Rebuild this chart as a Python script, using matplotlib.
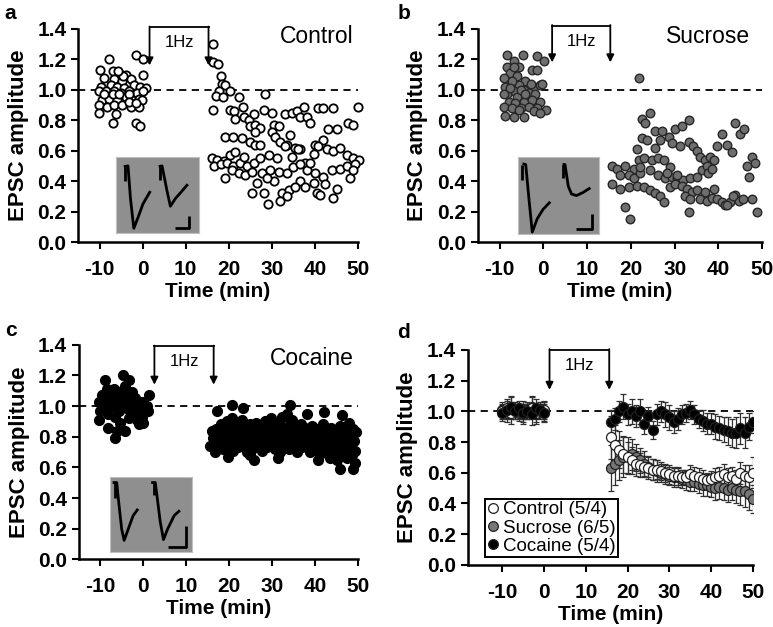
import numpy as np
import matplotlib.pyplot as plt
from matplotlib.lines import Line2D

plt.rcParams['font.family'] = ['Liberation Sans', 'DejaVu Sans']
plt.rcParams['axes.unicode_minus'] = False

# ---- panel a: control, (time min, EPSC amplitude) ----
control_base = [(-7.8, 1.20), (-1.6, 1.23), (0.15, 1.20), (0.15, 1.10), (-9.9, 1.13), (-6.9, 1.12),
                (-5.4, 1.11), (-3.8, 1.10), (-8.9, 1.08), (-6.6, 1.07), (-4.7, 1.06), (-2.8, 1.07),
                (-9.7, 1.02), (-7.4, 1.03), (-5.9, 1.02), (-4.3, 1.01), (-2.0, 1.03), (-0.5, 1.02),
                (0.7, 1.01), (-10.1, 0.99), (-8.6, 0.99), (-6.6, 0.99), (-5.1, 0.98), (-3.2, 0.99),
                (-1.3, 0.98), (0.1, 0.99), (-9.4, 0.93), (-7.8, 0.94), (-5.9, 0.93), (-3.9, 0.95),
                (-2.4, 0.93), (-0.8, 0.94), (-0.1, 0.93), (-10.1, 0.90), (-8.2, 0.89), (-6.6, 0.90),
                (-4.7, 0.90), (-2.8, 0.89), (-0.8, 0.89), (-10.1, 0.85), (-6.3, 0.84), (-7.0, 0.78),
                (-1.6, 0.78), (-0.5, 0.76), (-9.0, 0.97), (-7.0, 0.97), (-5.5, 0.97), (-3.2, 0.97),
                (-4.6, 1.09), (-5.7, 1.12), (-3.2, 0.92), (-1.6, 0.91)]
control_post = [(16.4, 1.30), (16.4, 1.18), (17.4, 1.17), (18.2, 1.09), (18.4, 1.04), (19.2, 1.03),
                (17.7, 0.99), (17.1, 0.96), (18.7, 0.95), (20.4, 0.99), (16.4, 0.87), (22.3, 0.95),
                (20.2, 0.87), (21.3, 0.86), (23.3, 0.89), (28.5, 0.97), (21.5, 0.81), (23.5, 0.82),
                (24.6, 0.80), (25.8, 0.84), (25.0, 0.76), (26.2, 0.77), (27.3, 0.75), (28.1, 0.87),
                (30.0, 0.85), (30.4, 0.77), (31.6, 0.76), (26.2, 0.72), (30.0, 0.72), (30.8, 0.69),
                (19.2, 0.69), (21.1, 0.69), (23.1, 0.68), (25.0, 0.66), (26.2, 0.64), (27.3, 0.64),
                (31.9, 0.66), (34.3, 0.70), (33.1, 0.84), (34.6, 0.85), (35.8, 0.86), (37.4, 0.89),
                (36.6, 0.82), (38.1, 0.82), (38.9, 0.78), (40.8, 0.88), (42.0, 0.88), (44.3, 0.88),
                (43.1, 0.74), (45.1, 0.74), (47.8, 0.78), (48.9, 0.77), (50.1, 0.89), (42.0, 0.67),
                (40.1, 0.64), (33.5, 0.64), (35.4, 0.62), (36.6, 0.61), (16.1, 0.55), (17.3, 0.54),
                (18.8, 0.53), (20.4, 0.57), (21.5, 0.59), (16.5, 0.50), (18.1, 0.51), (19.6, 0.52),
                (21.1, 0.50), (22.7, 0.52), (24.2, 0.50), (25.8, 0.52), (27.3, 0.55), (29.3, 0.57),
                (31.2, 0.55), (33.1, 0.63), (34.6, 0.56), (36.2, 0.61), (37.7, 0.52), (39.7, 0.58),
                (40.8, 0.63), (42.8, 0.61), (44.3, 0.60), (45.8, 0.62), (47.4, 0.57), (48.9, 0.55),
                (50.3, 0.54), (20.8, 0.47), (22.3, 0.45), (23.8, 0.44), (25.4, 0.46), (27.7, 0.45),
                (29.6, 0.47), (31.6, 0.46), (33.5, 0.45), (35.0, 0.49), (36.6, 0.51), (38.1, 0.47),
                (40.1, 0.45), (42.0, 0.43), (43.9, 0.47), (45.8, 0.48), (47.4, 0.50), (49.3, 0.51),
                (19.2, 0.42), (26.5, 0.39), (30.4, 0.40), (36.6, 0.40), (39.7, 0.39), (42.4, 0.38),
                (25.4, 0.32), (28.1, 0.32), (32.3, 0.32), (33.9, 0.34), (35.4, 0.36), (40.4, 0.32),
                (41.2, 0.31), (45.1, 0.35), (29.2, 0.25), (31.9, 0.27), (33.5, 0.30), (44.3, 0.29),
                (37.7, 0.36), (48.2, 0.42), (48.9, 0.47), (38.9, 0.52), (23.5, 0.56), (28.9, 0.42)]

# ---- panel b: sucrose ----
sucrose_base = [(-8.3, 1.23), (-4.6, 1.23), (-1.5, 1.22), (0.2, 1.19), (-6.8, 1.19), (-8.3, 1.15),
                (-5.6, 1.15), (-2.5, 1.13), (-1.4, 1.13), (-7.6, 1.11), (-6.0, 1.09), (-9.0, 1.08),
                (-4.1, 1.06), (-7.6, 1.04), (-5.6, 1.03), (-8.7, 1.02), (-2.2, 1.02), (-0.7, 1.03),
                (-0.3, 1.04), (-6.8, 0.99), (-4.5, 1.00), (-8.3, 0.97), (-6.0, 0.95), (-3.3, 0.98),
                (-1.8, 0.97), (-7.9, 0.92), (-6.4, 0.91), (-4.5, 0.92), (-2.5, 0.93), (-0.7, 0.92),
                (-9.0, 0.89), (-7.1, 0.88), (-5.2, 0.88), (-3.3, 0.89), (-1.4, 0.88), (0.5, 0.87),
                (-8.7, 0.83), (-6.8, 0.82), (-4.5, 0.82), (-2.2, 0.86), (-0.7, 0.85), (-9.0, 0.97),
                (-7.1, 1.06), (-5.2, 1.00), (-2.9, 1.04), (-6.8, 1.15), (-5.6, 0.87), (-7.7, 1.01),
                (-4.1, 0.97)]
sucrose_post = [(21.8, 1.08), (22.5, 0.81), (24.4, 0.85), (23.3, 0.78), (22.5, 0.68), (23.7, 0.67),
                (25.6, 0.73), (27.1, 0.73), (28.6, 0.69), (30.1, 0.74), (31.7, 0.76), (33.2, 0.80),
                (26.7, 0.67), (25.6, 0.62), (29.4, 0.65), (31.3, 0.63), (33.2, 0.66), (34.3, 0.63),
                (35.1, 0.60), (35.9, 0.56), (37.0, 0.54), (38.1, 0.56), (38.9, 0.54), (39.6, 0.63),
                (40.8, 0.71), (41.9, 0.64), (43.1, 0.59), (43.8, 0.78), (45.0, 0.71), (45.9, 0.74),
                (47.7, 0.56), (48.4, 0.52), (46.5, 0.50), (46.9, 0.43), (21.4, 0.61), (21.8, 0.54),
                (22.9, 0.55), (24.8, 0.54), (26.3, 0.55), (27.5, 0.54), (20.6, 0.48), (15.6, 0.50),
                (16.8, 0.48), (18.7, 0.50), (17.6, 0.44), (19.5, 0.44), (20.6, 0.42), (22.1, 0.45),
                (24.4, 0.47), (26.3, 0.44), (27.8, 0.42), (29.4, 0.43), (30.5, 0.42), (32.0, 0.41),
                (33.6, 0.42), (35.1, 0.43), (36.2, 0.47), (37.4, 0.50), (37.7, 0.45), (38.5, 0.48),
                (15.6, 0.38), (17.6, 0.35), (19.5, 0.36), (21.4, 0.37), (22.9, 0.36), (24.4, 0.34),
                (25.6, 0.32), (26.7, 0.30), (27.5, 0.26), (29.0, 0.36), (30.1, 0.38), (31.7, 0.37),
                (32.8, 0.35), (34.0, 0.33), (35.1, 0.34), (37.0, 0.33), (38.9, 0.35), (32.4, 0.30),
                (33.6, 0.28), (35.9, 0.28), (37.4, 0.27), (38.5, 0.29), (39.6, 0.28), (40.8, 0.26),
                (41.5, 0.24), (42.7, 0.26), (43.8, 0.31), (44.6, 0.27), (45.7, 0.28), (47.7, 0.28),
                (33.2, 0.20), (48.8, 0.20), (18.7, 0.23), (19.7, 0.15), (22.1, 0.49), (29.0, 0.49),
                (30.5, 0.44), (28.3, 0.45), (41.9, 0.24), (43.4, 0.30)]

# ---- panel c: cocaine ----
cocaine_base = [(-9.0, 1.17), (-4.6, 1.20), (-3.4, 1.17), (-6.9, 1.11), (-5.7, 1.09), (-8.4, 1.11),
                (-9.6, 1.07), (-8.1, 1.06), (-6.5, 1.04), (-4.6, 1.07), (-2.7, 1.09), (-1.9, 1.05),
                (-0.3, 1.03), (1.4, 1.07), (-10.2, 1.03), (-8.8, 0.99), (-7.3, 1.00), (-5.7, 0.97),
                (-3.8, 0.99), (-2.2, 1.00), (-0.7, 0.98), (0.9, 1.00), (-10.0, 0.97), (-8.1, 0.95),
                (-6.5, 0.93), (-1.9, 0.95), (-0.3, 0.93), (0.5, 0.96), (-3.4, 0.92), (-1.5, 0.91),
                (-1.1, 0.88), (-10.2, 0.91), (-8.1, 0.86), (-5.4, 0.89), (-6.2, 0.84), (-4.3, 0.84),
                (-6.5, 0.79), (-5.0, 1.03), (-3.4, 1.03), (-8.8, 1.03), (-7.3, 1.08), (-4.2, 1.13),
                (-3.0, 0.97), (1.2, 0.97), (0.0, 0.89)]
cocaine_post = [(15.6, 0.74), (15.9, 0.84), (16.2, 0.79), (16.6, 0.70), (16.9, 0.85), (17.2, 0.76),
                (17.5, 0.81), (17.8, 0.73), (18.0, 0.88), (18.3, 0.80), (18.6, 0.72), (18.9, 0.84),
                (19.1, 0.77), (19.4, 0.90), (19.7, 0.82), (19.9, 0.74), (20.2, 0.86), (20.5, 0.79),
                (20.7, 0.92), (20.9, 0.71), (21.2, 0.83), (21.5, 0.76), (21.8, 0.88), (21.9, 0.80),
                (22.1, 0.73), (22.4, 0.85), (22.7, 0.78), (22.9, 0.91), (23.2, 0.82), (23.5, 0.74),
                (23.7, 0.87), (23.9, 0.79), (24.1, 0.70), (24.4, 0.83), (24.7, 0.77), (24.9, 0.88),
                (25.2, 0.80), (25.4, 0.72), (25.7, 0.85), (25.9, 0.76), (26.2, 0.89), (26.5, 0.81),
                (26.7, 0.74), (26.9, 0.84), (27.2, 0.78), (27.5, 0.87), (27.7, 0.71), (27.9, 0.82),
                (28.2, 0.76), (28.4, 0.90), (28.7, 0.83), (28.9, 0.73), (29.2, 0.86), (29.4, 0.79),
                (29.7, 0.92), (29.9, 0.75), (30.2, 0.82), (30.4, 0.88), (30.7, 0.72), (30.9, 0.80),
                (31.2, 0.85), (31.4, 0.77), (31.7, 0.90), (31.9, 0.70), (32.2, 0.83), (32.4, 0.93),
                (32.7, 0.76), (32.9, 0.86), (33.2, 0.79), (33.4, 0.95), (33.7, 0.84), (33.9, 0.72),
                (34.2, 0.88), (34.4, 0.80), (34.7, 0.91), (34.9, 0.74), (35.2, 0.83), (35.4, 0.87),
                (35.7, 0.77), (35.9, 0.70), (36.2, 0.85), (36.4, 0.79), (36.7, 0.88), (36.9, 0.73),
                (37.2, 0.82), (37.4, 0.76), (37.7, 0.86), (37.9, 0.80), (38.2, 0.74), (38.4, 0.84),
                (38.7, 0.78), (38.9, 0.70), (39.2, 0.81), (39.4, 0.87), (39.7, 0.75), (39.9, 0.83),
                (40.2, 0.72), (40.4, 0.80), (40.7, 0.85), (40.9, 0.77), (41.2, 0.69), (41.4, 0.82),
                (41.7, 0.76), (41.9, 0.88), (42.2, 0.79), (42.4, 0.71), (42.7, 0.84), (42.9, 0.75),
                (43.2, 0.68), (43.4, 0.80), (43.7, 0.86), (43.9, 0.73), (44.2, 0.78), (44.4, 0.70),
                (44.7, 0.83), (44.9, 0.76), (45.2, 0.65), (45.4, 0.81), (45.7, 0.74), (45.9, 0.87),
                (46.2, 0.69), (46.4, 0.79), (46.7, 0.72), (46.9, 0.84), (47.2, 0.76), (47.4, 0.66),
                (47.7, 0.82), (47.9, 0.89), (48.2, 0.73), (48.4, 0.80), (48.7, 0.68), (48.9, 0.85),
                (49.1, 0.77), (49.3, 0.71), (49.5, 0.83), (49.4, 0.63),
                (20.6, 1.01), (34.2, 1.01), (17.1, 0.97), (23.3, 0.99), (38.1, 0.95), (42.0, 0.96),
                (46.2, 0.94), (19.8, 0.67), (24.9, 0.68), (25.7, 0.65), (31.5, 0.66), (40.8, 0.65),
                (45.8, 0.59), (48.9, 0.59), (43.5, 0.66)]

# ---- panel d: group means +- SEM ----
t_base = [-10, -9, -8, -7, -6, -5, -4, -3, -2, -1, 0]
t_post = list(range(16, 51))
ctrl_mean_base = [1.00, 1.02, 0.99, 1.01, 1.00, 0.98, 1.01, 1.02, 0.99, 1.00, 1.01]
sucr_mean_base = [1.01, 0.99, 1.02, 1.00, 0.99, 1.01, 1.00, 1.03, 0.98, 1.01, 1.00]
coca_mean_base = [0.99, 1.01, 1.03, 1.00, 1.02, 0.99, 1.00, 0.98, 1.02, 1.01, 0.99]
base_sem = [0.05, 0.06, 0.07, 0.05, 0.05, 0.06, 0.05, 0.07, 0.06, 0.05, 0.06]
ctrl_mean_post = [0.83, 0.78, 0.75, 0.72, 0.70, 0.68, 0.66, 0.65, 0.64, 0.63, 0.62, 0.62, 0.61, 0.60,
                  0.59, 0.58, 0.58, 0.57, 0.57, 0.59, 0.58, 0.57, 0.56, 0.55, 0.56, 0.57, 0.58, 0.59,
                  0.57, 0.58, 0.56, 0.60, 0.58, 0.57, 0.60]
ctrl_sem_post = [0.14, 0.13, 0.12, 0.12, 0.10, 0.09, 0.08, 0.08, 0.07, 0.07, 0.07, 0.06, 0.06, 0.06,
                 0.06, 0.06, 0.06, 0.05, 0.05, 0.06, 0.06, 0.06, 0.06, 0.05, 0.05, 0.06, 0.06, 0.07,
                 0.06, 0.06, 0.06, 0.07, 0.07, 0.08, 0.10]
sucr_mean_post = [0.63, 0.66, 0.68, 0.70, 0.71, 0.72, 0.70, 0.68, 0.66, 0.64, 0.62, 0.61, 0.60, 0.59,
                  0.58, 0.57, 0.57, 0.56, 0.55, 0.54, 0.54, 0.53, 0.52, 0.52, 0.51, 0.50, 0.51, 0.50,
                  0.49, 0.50, 0.49, 0.48, 0.48, 0.46, 0.43]
sucr_sem_post = [0.15, 0.14, 0.13, 0.13, 0.12, 0.10, 0.09, 0.08, 0.08, 0.07, 0.07, 0.07, 0.06, 0.06,
                 0.06, 0.06, 0.06, 0.06, 0.06, 0.06, 0.06, 0.06, 0.07, 0.07, 0.07, 0.08, 0.08, 0.08,
                 0.08, 0.08, 0.09, 0.09, 0.10, 0.10, 0.09]
coca_mean_post = [0.93, 0.95, 1.00, 1.03, 0.98, 1.00, 0.97, 1.00, 0.92, 0.97, 0.88, 0.98, 1.00, 0.98,
                  0.96, 0.93, 0.95, 0.98, 0.99, 1.01, 0.98, 0.95, 0.94, 0.92, 0.92, 0.90, 0.89, 0.88,
                  0.87, 0.86, 0.86, 0.89, 0.86, 0.90, 0.93]
coca_sem_post = [0.08, 0.07, 0.07, 0.08, 0.07, 0.08, 0.07, 0.08, 0.07, 0.06, 0.06, 0.07, 0.07, 0.08,
                 0.08, 0.07, 0.07, 0.06, 0.06, 0.06, 0.06, 0.06, 0.07, 0.07, 0.07, 0.08, 0.08, 0.08,
                 0.09, 0.09, 0.10, 0.10, 0.10, 0.09, 0.07]

# example EPSC traces for the insets (normalised inset coords)
traces_a = [[(0.11, 0.86), (0.11, 0.68)],
            [(0.10, 0.87), (0.15, 0.88), (0.18, 0.45), (0.22, 0.06), (0.27, 0.20), (0.33, 0.38), (0.42, 0.55)],
            [(0.54, 0.86), (0.54, 0.70)],
            [(0.52, 0.87), (0.56, 0.88), (0.62, 0.55), (0.66, 0.35), (0.72, 0.45), (0.80, 0.55), (0.87, 0.64)],
            [(0.71, 0.07), (0.88, 0.07), (0.88, 0.22)]]
traces_b = [[(0.06, 0.90), (0.06, 0.70)],
            [(0.06, 0.91), (0.10, 0.90), (0.14, 0.45), (0.18, 0.03), (0.24, 0.20), (0.31, 0.32), (0.40, 0.42)],
            [(0.55, 0.90), (0.55, 0.72)],
            [(0.55, 0.90), (0.58, 0.90), (0.62, 0.62), (0.66, 0.52), (0.72, 0.50), (0.80, 0.54), (0.89, 0.60)],
            [(0.71, 0.07), (0.91, 0.07), (0.91, 0.26)]]
traces_c = [[(0.06, 0.92), (0.06, 0.72)],
            [(0.03, 0.92), (0.08, 0.92), (0.10, 0.70), (0.14, 0.30), (0.17, 0.15), (0.22, 0.30), (0.28, 0.48), (0.34, 0.57)],
            [(0.53, 0.92), (0.53, 0.75)],
            [(0.50, 0.92), (0.55, 0.92), (0.57, 0.75), (0.61, 0.40), (0.65, 0.16), (0.70, 0.30), (0.78, 0.48), (0.85, 0.55)],
            [(0.71, 0.06), (0.93, 0.06), (0.93, 0.34)]]


def style_axes(ax, xmin):
    ax.set_xlim(xmin, 50)
    ax.set_ylim(0, 1.4)
    ax.spines['top'].set_visible(False)
    ax.spines['right'].set_visible(False)
    for s in ('left', 'bottom'):
        ax.spines[s].set_linewidth(1.8)
    ax.set_xticks([-10, 0, 10, 20, 30, 40, 50])
    ax.set_yticks(np.arange(0, 1.41, 0.2))
    ax.set_yticklabels(['%.1f' % v for v in np.arange(0, 1.41, 0.2)])
    ax.tick_params(width=1.5, length=5, labelsize=15)
    ax.tick_params(axis='x', pad=8)
    for lab in ax.get_xticklabels() + ax.get_yticklabels():
        lab.set_fontweight('bold')
    ax.set_xlabel('Time (min)', fontsize=15, fontweight='bold', labelpad=2)
    ax.set_ylabel('EPSC amplitude', fontsize=16, fontweight='bold', labelpad=6)
    ax.axhline(1.0, color='k', lw=1.3, ls=(0, (4, 3)), zorder=0)


def stim_bracket(ax, x0, x1, ytop, ytip):
    ax.plot([x0, x1], [ytop, ytop], color='k', lw=1.3, clip_on=False)
    for x in (x0, x1):
        ax.annotate('', xy=(x, ytip), xytext=(x, ytop + 0.005),
                    arrowprops=dict(arrowstyle='-|>', color='k', lw=1.3,
                                    mutation_scale=11, shrinkA=0, shrinkB=0),
                    annotation_clip=False)
    ax.text((x0 + x1) / 2, ytop - 0.1, '1Hz', ha='center', va='center', fontsize=12)


def add_inset(ax, box, traces):
    ins = ax.inset_axes(box, transform=ax.transData)
    ins.set_facecolor('#8f8f8f')
    ins.set_xlim(0, 1)
    ins.set_ylim(0, 1)
    ins.set_xticks([])
    ins.set_yticks([])
    for s in ins.spines.values():
        s.set_color('#c0c0c0')
        s.set_linewidth(0.8)
    for tr in traces:
        xs, ys = zip(*tr)
        ins.plot(xs, ys, color='k', lw=2.0, solid_capstyle='butt')


def scatter_pairs(ax, pairs, **kw):
    arr = np.array(pairs)
    ax.scatter(arr[:, 0], arr[:, 1], clip_on=False, zorder=3, **kw)


fig = plt.figure(figsize=(7.73, 6.27), dpi=100)
ax_a = fig.add_axes([0.101, 0.614, 0.362, 0.340])
ax_b = fig.add_axes([0.618, 0.614, 0.368, 0.340])
ax_c = fig.add_axes([0.102, 0.108, 0.361, 0.342])
ax_d = fig.add_axes([0.605, 0.099, 0.369, 0.343])

# a
style_axes(ax_a, -15)
ctrl_kw = dict(s=36, facecolor='white', edgecolor='black', linewidths=1.3)
scatter_pairs(ax_a, control_base, **ctrl_kw)
scatter_pairs(ax_a, control_post, **ctrl_kw)
stim_bracket(ax_a, 1.6, 15.3, 1.41, 1.16)
ax_a.text(40.5, 1.35, 'Control', ha='center', va='center', fontsize=16.5)
add_inset(ax_a, [-6.3, 0.06, 19.3, 0.50], traces_a)

# b
style_axes(ax_b, -15)
sucr_kw = dict(s=38, facecolor='#6e6e6e', edgecolor='#262626', linewidths=1.0)
scatter_pairs(ax_b, sucrose_base, **sucr_kw)
scatter_pairs(ax_b, sucrose_post, **sucr_kw)
stim_bracket(ax_b, 2.0, 15.3, 1.42, 1.18)
ax_b.text(37.7, 1.35, 'Sucrose', ha='center', va='center', fontsize=16.5)
add_inset(ax_b, [-5.9, 0.05, 18.7, 0.51], traces_b)

# c
style_axes(ax_c, -15)
coca_kw = dict(s=52, facecolor='black', edgecolor='black', linewidths=0.8)
scatter_pairs(ax_c, cocaine_base, **coca_kw)
scatter_pairs(ax_c, cocaine_post, **coca_kw)
stim_bracket(ax_c, 2.6, 16.4, 1.39, 1.14)
ax_c.text(39.3, 1.31, 'Cocaine', ha='center', va='center', fontsize=16.5)
add_inset(ax_c, [-7.7, 0.05, 19.1, 0.49], traces_c)

# d
style_axes(ax_d, -18.3)
groups = [
    (sucr_mean_base, sucr_mean_post, sucr_sem_post, '#777777', 'Sucrose (6/5)'),
    (ctrl_mean_base, ctrl_mean_post, ctrl_sem_post, 'white', 'Control (5/4)'),
    (coca_mean_base, coca_mean_post, coca_sem_post, 'black', 'Cocaine (5/4)'),
]
for mb, mp, sp, fc, lab in groups:
    for t, m, e in ((t_base, mb, base_sem), (t_post, mp, sp)):
        ax_d.errorbar(t, m, yerr=e, fmt='o', ms=7.2, mfc=fc, mec='#202020', mew=0.9,
                      ecolor='#303030', elinewidth=0.9, capsize=2.5, capthick=0.9, zorder=3)
stim_bracket(ax_d, 1.3, 15.6, 1.40, 1.14)
handles = [Line2D([], [], ls='none', marker='o', ms=7, mfc=c, mec='#202020', mew=0.9)
           for c in ('white', '#777777', 'black')]
leg = ax_d.legend(handles, ['Control (5/4)', 'Sucrose (6/5)', 'Cocaine (5/4)'],
                  loc='lower left', bbox_to_anchor=(0.06, 0.035), borderaxespad=0,
                  fontsize=13.5, handlelength=0.6, handletextpad=0.2, labelspacing=0.05,
                  borderpad=0.15, fancybox=False, framealpha=1, edgecolor='black')
leg.get_frame().set_linewidth(1.4)

for x, y, s in ((0.006, 0.978, 'a'), (0.514, 0.978, 'b'), (0.006, 0.473, 'c'), (0.514, 0.470, 'd')):
    fig.text(x, y, s, fontsize=15, fontweight='bold', va='center')

fig.savefig('out.png', dpi=100)
